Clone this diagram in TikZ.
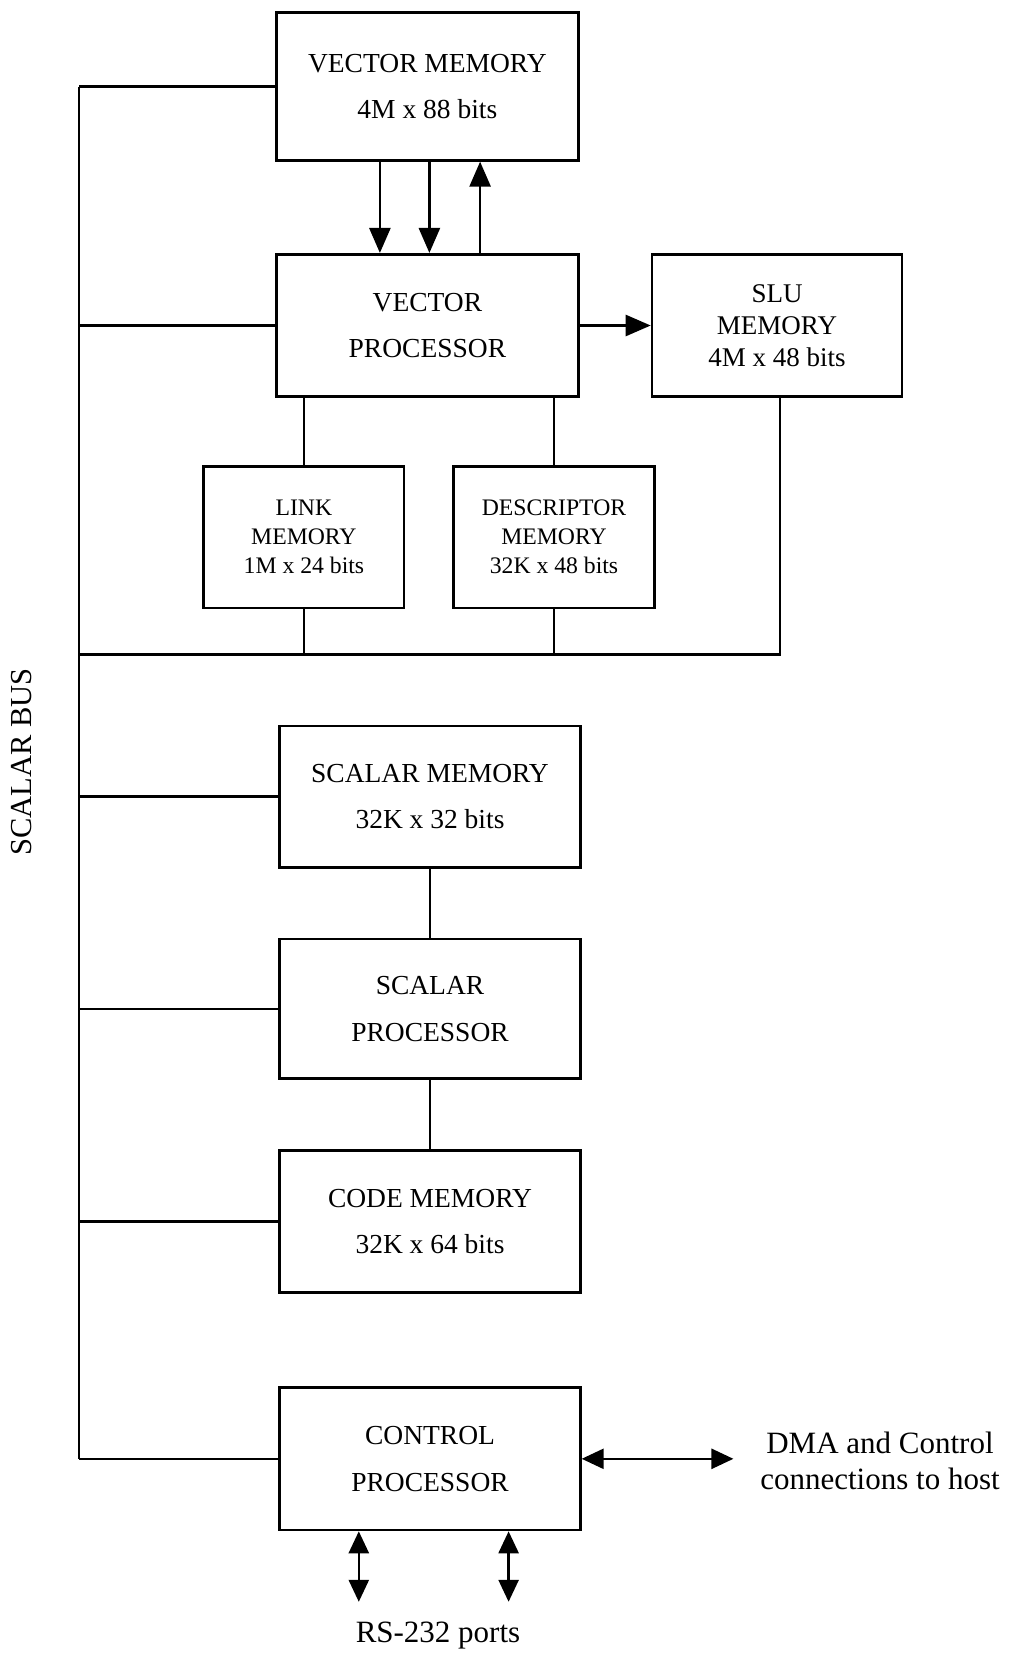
\documentclass[tikz,border=0pt]{standalone}
\usepackage{fontspec}
\setmainfont{Liberation Serif}
\usetikzlibrary{arrows.meta}
\begin{document}
\begin{tikzpicture}[x=1pt,y=-1pt,
  blk/.style={draw,line width=2.6pt,inner sep=0pt,align=center},
  bigtxt/.style={font=\fontsize{27.5}{46.5}\selectfont},
  slutxt/.style={font=\fontsize{27}{31.7}\selectfont},
  smalltxt/.style={font=\fontsize{23.7}{29}\selectfont},
  lbl/.style={font=\fontsize{31}{36}\selectfont,align=center,inner sep=0pt},
  wire/.style={line width=2.6pt},
  arr/.style={line width=2.6pt,-{Triangle[length=25pt,width=21pt]}},
  dbl/.style={line width=2.6pt,{Triangle[length=22pt,width=20pt]}-{Triangle[length=22pt,width=20pt]}}
]
\fill[white] (0,0) rectangle (1013,1655);
\useasboundingbox (0,0) rectangle (1013,1655);

% boxes
\node[blk,bigtxt,minimum width=301.8pt,minimum height=147.7pt] (vm) at (427.4,86.5) {VECTOR MEMORY\\4M x 88 bits};
\node[blk,bigtxt,minimum width=301.8pt,minimum height=142.5pt] (vp) at (427.4,325.5) {VECTOR\\PROCESSOR};
\node[blk,slutxt,minimum width=250pt,minimum height=142.5pt] (slu) at (777,325.5) {SLU\\MEMORY\\4M x 48 bits};
\node[blk,smalltxt,minimum width=200.4pt,minimum height=141.4pt] (link) at (303.9,537.1) {LINK\\MEMORY\\1M x 24 bits};
\node[blk,smalltxt,minimum width=200.5pt,minimum height=141.4pt] (desc) at (554,537.1) {DESCRIPTOR\\MEMORY\\32K x 48 bits};
\node[blk,bigtxt,minimum width=300.8pt,minimum height=141.4pt] (sm) at (430,796.7) {SCALAR MEMORY\\32K x 32 bits};
\node[blk,bigtxt,minimum width=300.8pt,minimum height=139.3pt] (sp) at (430,1008.8) {SCALAR\\PROCESSOR};
\node[blk,bigtxt,minimum width=300.8pt,minimum height=142.4pt] (cm) at (430,1221.4) {CODE MEMORY\\32K x 64 bits};
\node[blk,bigtxt,minimum width=300.8pt,minimum height=142.4pt] (cp) at (430,1458.8) {CONTROL\\PROCESSOR};

% labels
\node[lbl] (dma) at (880,1461) {DMA and Control\\connections to host};
\node[lbl] (rs) at (438,1636) {RS-232 ports};
\node[lbl,rotate=90,font=\fontsize{30.5}{36}\selectfont] (sb) at (22,762) {SCALAR BUS};

% coordinates
\coordinate (bx) at (79.1,0);
\coordinate (lb) at (79.1,654.2);
\coordinate (dmaend) at (733.4,1458.8);
\coordinate (rs1) at (358.8,1601.8);
\coordinate (rs2) at (508.6,1601.8);

% scalar bus
\draw[wire] (vm.west -| bx) -- (cp.west -| bx);
\foreach \b in {vm,vp,sm,sp,cm,cp} \draw[wire] (\b.west) -- (\b.west -| bx);

% vector memory <-> processor
\draw[arr] ([xshift=-47.5pt]vm.south) -- ([xshift=-47.5pt]vp.north);
\draw[arr] ([xshift=2pt]vm.south) -- ([xshift=2pt]vp.north);
\draw[arr] ([xshift=52.7pt]vp.north) -- ([xshift=52.7pt]vm.south);

% vector processor -> SLU
\draw[arr] (vp.east) -- (slu.west);

% link / descriptor
\draw[wire] (vp.south -| link.north) -- (link.north);
\draw[wire] (vp.south -| desc.north) -- (desc.north);
\draw[wire] (link.south) -- (link.south |- lb);
\draw[wire] (desc.south) -- (desc.south |- lb);
\draw[wire] ([xshift=2.8pt]slu.south) -- ([xshift=2.8pt]slu.south |- lb) -- (lb);

% scalar chain
\draw[wire] (sm.south) -- (sp.north);
\draw[wire] (sp.south) -- (cm.north);

% control processor
\draw[dbl] (cp.east) -- (dmaend);
\draw[dbl] (cp.south -| rs1) -- (rs1);
\draw[dbl] (cp.south -| rs2) -- (rs2);
\end{tikzpicture}
\end{document}
